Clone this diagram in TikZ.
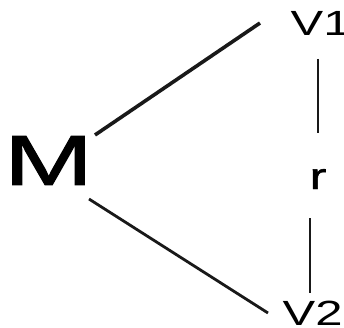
\documentclass[tikz,border=0pt]{standalone}
\usepackage{fontspec}
\setmainfont{Liberation Sans}
\newfontfamily\heavyfont[FakeBold=1.2]{Liberation Sans}
\tikzset{
  lbl/.style={inner sep=0pt, outer sep=0pt, anchor=base west},
  link/.style={line width=2.8pt, black!90},
}
\newcommand{\wide}[3]{\scalebox{#1}[1]{\fontsize{#2}{#2}\selectfont #3}}
\begin{document}
\begin{tikzpicture}[x=1pt,y=1pt]
  \useasboundingbox (0,0) rectangle (344,327);
  % labels (trailing kerns trim the side bearing of the last glyph)
  \node[inner sep=0pt] (M) at (48.5,166.5) {\wide{1.5}{71pt}{\heavyfont M}};
  \node[lbl] (V1) at (290.6,291) {\wide{1.4}{35pt}{V1\kern-0.19em}};
  \node[lbl] (V2) at (282.6,2) {\wide{1.4}{35pt}{V2\kern-0.05em}};
  \node[lbl] (r) at (309.7,138) {\wide{1.35}{37pt}{\heavyfont r}};
  % connectors
  \draw[link, line width=3.6pt] ([shift={(46.5,25.5)}]M.center) -- ([shift={(-30.6,13)}]V1.base west);
  \draw[link] ([shift={(40.5,-38.5)}]M.center) -- ([shift={(-14.6,12)}]V2.base west);
  \draw[link] ([shift={(27.4,-23)}]V1.base west) -- ([shift={(8.3,56)}]r.base west);
  \draw[link] ([shift={(0.3,-29)}]r.base west) -- ([shift={(27.4,32)}]V2.base west);
\end{tikzpicture}
\end{document}
